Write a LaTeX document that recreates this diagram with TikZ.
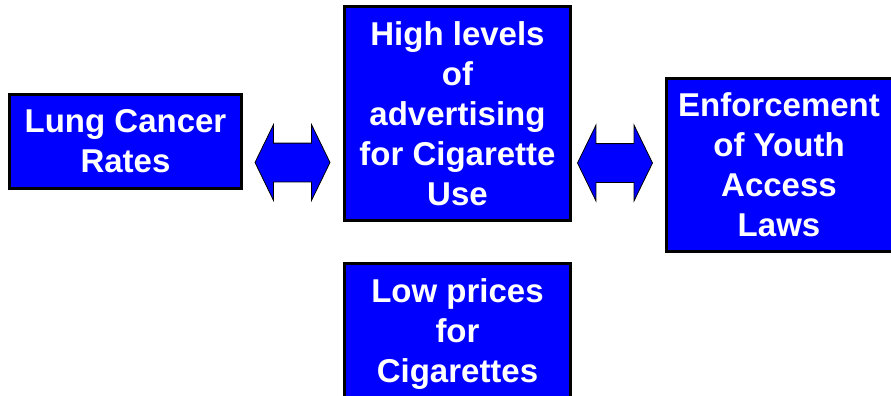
\documentclass[tikz,border=0pt]{standalone}
\usepackage{fontspec}
\setmainfont{Liberation Sans}
\usetikzlibrary{shapes.arrows}

\begin{document}
\begin{tikzpicture}[
    x=1pt, y=-1pt,
    box/.style={rectangle, draw=black, line width=3pt, fill=blue, text=white,
        inner sep=0pt, align=center, font=\bfseries\fontsize{33}{40}\selectfont},
    dblarrow/.style={double arrow, draw=black, line width=0.8pt, fill=blue,
        inner xsep=0pt, inner ysep=19pt, minimum height=75pt,
        double arrow tip angle=128, double arrow head extend=18.5pt,
        double arrow head indent=0pt}
]
\path[use as bounding box, clip] (0,0) rectangle (891,396);

% Boxes
\node[box, minimum width=232pt, minimum height=94pt] (lung) at (125.5,141.5) {Lung Cancer\\Rates};
\node[box, minimum width=226pt, minimum height=214pt] (advert) at (457.5,113.5) {High levels\\of\\advertising\\for Cigarette\\Use};
\node[box, minimum width=226pt, minimum height=173pt] (youth) at (779,165) {Enforcement\\of Youth\\Access\\Laws};
\node[box, minimum width=226pt, minimum height=142pt] (price) at (457.5,334) {Low prices\\for\\Cigarettes};

% Block arrows
\node[dblarrow] (linkA) at (292.5,162.5) {};
\node[dblarrow] (linkB) at (615,163) {};

\end{tikzpicture}
\end{document}
